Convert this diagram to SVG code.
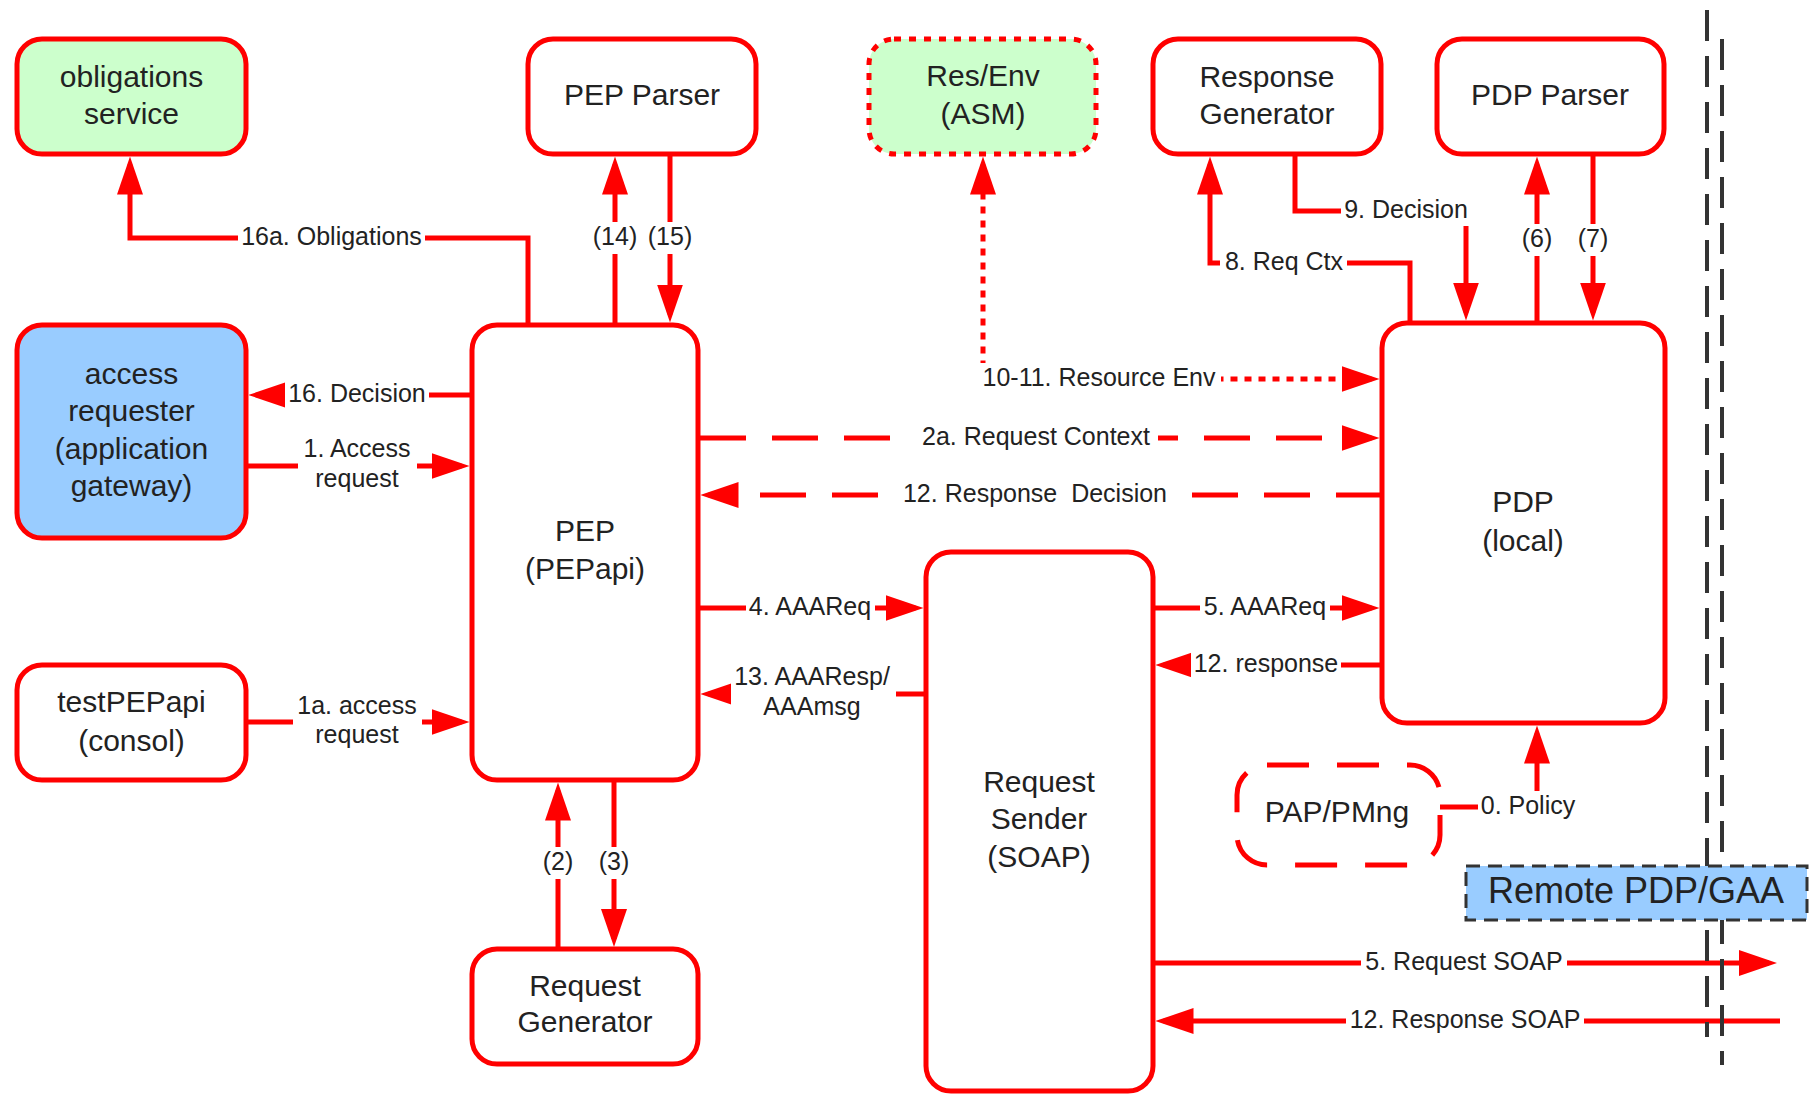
<svg xmlns="http://www.w3.org/2000/svg" width="1813" height="1097" viewBox="0 0 1813 1097">
<style>
.box{fill:#fff;stroke:#f00;stroke-width:5}
.green{fill:#ccffcc}
.blue{fill:#99ccff}
.dotb{stroke-dasharray:7 8}
.dashb{stroke-dasharray:42 28}
.nt{font-family:"Liberation Sans",Arial,sans-serif;font-size:30px;fill:#222;text-anchor:middle;dominant-baseline:central;transform:translateY(-2px)}
.lt{font-family:"Liberation Sans",Arial,sans-serif;font-size:25px;fill:#222;text-anchor:middle;dominant-baseline:central;transform:translateY(-2px)}
.big{font-size:36px}
.c{fill:none;stroke:#f00;stroke-width:5}
.ca{marker-end:url(#arr)}
.dash{stroke-dasharray:46 26}
.dot{stroke-dasharray:7 7}
.lbg{fill:#fff}
.bound{fill:none;stroke:#333;stroke-width:4;stroke-dasharray:31 15}
.remote{fill:#99ccff;stroke:#333;stroke-width:3;stroke-dasharray:14 8}
</style>
<defs>
<marker id="arr" viewBox="0 0 38 26" refX="30" refY="13" markerWidth="38" markerHeight="26" markerUnits="userSpaceOnUse" orient="auto-start-reverse">
<path d="M0,0 L38,13 L0,26 z" fill="#f00"/>
</marker>
</defs>
<rect width="1813" height="1097" fill="#fff"/>

<g id="obligations-service"><rect class="box green" x="17" y="39" width="229" height="115" rx="25"/><text class="nt" x="131.5" y="78">obligations</text><text class="nt" x="131.5" y="115">service</text></g>
<g id="pep-parser"><rect class="box" x="528" y="39" width="228" height="115" rx="25"/><text class="nt" x="642" y="96">PEP Parser</text></g>
<g id="res-env"><rect class="box green dotb" x="869" y="39" width="227" height="115" rx="25"/><text class="nt" x="983" y="77">Res/Env</text><text class="nt" x="983" y="115">(ASM)</text></g>
<g id="response-generator"><rect class="box" x="1153" y="39" width="228" height="115" rx="25"/><text class="nt" x="1267" y="78">Response</text><text class="nt" x="1267" y="115">Generator</text></g>
<g id="pdp-parser"><rect class="box" x="1437" y="39" width="227" height="115" rx="25"/><text class="nt" x="1550" y="96">PDP Parser</text></g>
<g id="access-requester"><rect class="box blue" x="17" y="325" width="229" height="213" rx="25"/><text class="nt" x="131.5" y="375">access</text><text class="nt" x="131.5" y="412">requester</text><text class="nt" x="131.5" y="450">(application</text><text class="nt" x="131.5" y="487">gateway)</text></g>
<g id="pep"><rect class="box" x="472" y="325" width="226" height="455" rx="25"/><text class="nt" x="585" y="532">PEP</text><text class="nt" x="585" y="570">(PEPapi)</text></g>
<g id="test-pep-api"><rect class="box" x="17" y="665" width="229" height="115" rx="25"/><text class="nt" x="131.5" y="703">testPEPapi</text><text class="nt" x="131.5" y="742">(consol)</text></g>
<g id="request-generator"><rect class="box" x="472" y="949" width="226" height="115" rx="25"/><text class="nt" x="585" y="987">Request</text><text class="nt" x="585" y="1023">Generator</text></g>
<g id="request-sender"><rect class="box" x="926" y="552" width="227" height="539" rx="25"/><text class="nt" x="1039" y="783">Request</text><text class="nt" x="1039" y="820">Sender</text><text class="nt" x="1039" y="858">(SOAP)</text></g>
<g id="pdp-local"><rect class="box" x="1382" y="323" width="283" height="400" rx="25"/><text class="nt" x="1523" y="503">PDP</text><text class="nt" x="1523" y="542">(local)</text></g>
<g id="pap-pmng"><rect class="box dashb" x="1237" y="765" width="203" height="100" rx="30"/><text class="nt" x="1337" y="813">PAP/PMng</text></g>

<g id="connectors">
<path class="c ca" d="M528 323V238H130V164.5"/>
<rect class="lbg" x="238" y="224" width="187" height="28"/><text class="lt" x="331.5" y="238">16a. Obligations</text>
<path class="c ca" d="M615 323V164.5"/>
<rect class="lbg" x="594" y="222" width="42" height="32"/><text class="lt" x="615" y="238">(14)</text>
<path class="c ca" d="M670 156V314.5"/>
<rect class="lbg" x="649" y="222" width="42" height="32"/><text class="lt" x="670" y="238">(15)</text>
<path class="c ca" d="M472 395H256.5"/>
<rect class="lbg" x="285" y="381" width="144" height="28"/><text class="lt" x="357" y="395">16. Decision</text>
<path class="c ca" d="M246 466H461.5"/>
<rect class="lbg" x="298" y="436" width="119" height="58"/><text class="lt" x="357" y="450">1. Access</text><text class="lt" x="357" y="480">request</text>
<path class="c ca" d="M246 722H461.5"/>
<rect class="lbg" x="293" y="693" width="129" height="58"/><text class="lt" x="357" y="707">1a. access</text><text class="lt" x="357" y="736">request</text>
<path class="c ca" d="M558 949V790.5"/>
<rect class="lbg" x="541" y="847" width="34" height="32"/><text class="lt" x="558" y="863">(2)</text>
<path class="c ca" d="M614 780V939"/>
<rect class="lbg" x="597" y="847" width="34" height="32"/><text class="lt" x="614" y="863">(3)</text>
<path class="c ca" d="M698 608H915.5"/>
<rect class="lbg" x="746" y="594" width="129" height="28"/><text class="lt" x="810" y="608">4. AAAReq</text>
<path class="c ca" d="M926 694H708.5"/>
<rect class="lbg" x="731" y="664" width="165" height="58"/><text class="lt" x="812" y="678">13. AAAResp/</text><text class="lt" x="812" y="708">AAAmsg</text>
<path class="c ca dash" d="M700 438H1371.5"/>
<rect class="lbg" x="914" y="424" width="244" height="28"/><text class="lt" x="1036" y="438">2a. Request Context</text>
<path class="c ca dash" d="M1382 495H708.5"/>
<rect class="lbg" x="897" y="481" width="276" height="28"/><text class="lt" x="1035" y="495" xml:space="preserve">12. Response  Decision</text>
<path class="c ca dot" style="marker-start:url(#arr)" d="M983 164.5V379H1371.5"/>
<rect class="lbg" x="977" y="363" width="244" height="32"/><text class="lt" x="1099" y="379">10-11. Resource Env</text>
<path class="c ca" d="M1153 608H1371.5"/>
<rect class="lbg" x="1200" y="594" width="130" height="28"/><text class="lt" x="1265" y="608">5. AAAReq</text>
<path class="c ca" d="M1382 665H1163.5"/>
<rect class="lbg" x="1191" y="651" width="150" height="28"/><text class="lt" x="1266" y="665">12. response</text>
<path class="c ca" d="M1153 963H1769"/>
<rect class="lbg" x="1361" y="949" width="206" height="28"/><text class="lt" x="1464" y="963">5. Request SOAP</text>
<path class="c ca" d="M1780 1021H1163.5"/>
<rect class="lbg" x="1346" y="1007" width="238" height="28"/><text class="lt" x="1465" y="1021">12. Response SOAP</text>
<path class="c ca" d="M1440 807H1537V733.5"/>
<rect class="lbg" x="1478" y="791" width="101" height="32"/><text class="lt" x="1528" y="807">0. Policy</text>
<path class="c ca" d="M1410 321V263H1210V164.5"/>
<rect class="lbg" x="1220" y="249" width="127" height="28"/><text class="lt" x="1284" y="263">8. Req Ctx</text>
<path class="c ca" d="M1295 156V211H1466V312.5"/>
<rect class="lbg" x="1341" y="196" width="131" height="30"/><text class="lt" x="1406" y="211">9. Decision</text>
<path class="c ca" d="M1537 321V164.5"/>
<rect class="lbg" x="1520" y="224" width="34" height="32"/><text class="lt" x="1537" y="240">(6)</text>
<path class="c ca" d="M1593 156V312.5"/>
<rect class="lbg" x="1576" y="224" width="34" height="32"/><text class="lt" x="1593" y="240">(7)</text>
</g>

<g id="boundary">
<path class="bound" d="M1707 10V1037"/>
<path class="bound" d="M1722 39V1065"/>
</g>

<g id="remote-pdp-gaa"><rect class="remote" x="1466" y="866" width="341" height="54"/><text class="nt big" x="1636" y="892">Remote PDP/GAA</text></g>
</svg>
